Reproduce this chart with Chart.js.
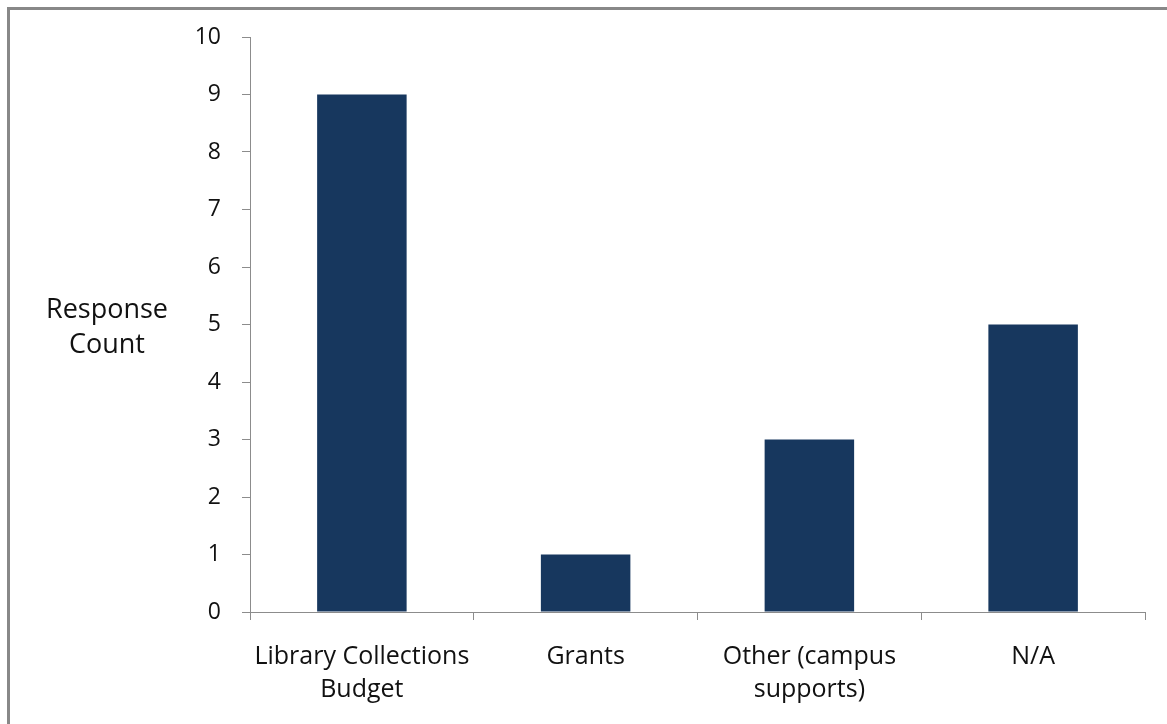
<!DOCTYPE html>
<html>
<head>
<meta charset="utf-8">
<script src="https://cdn.jsdelivr.net/npm/chart.js@4"></script>
<style>
  html, body { margin: 0; padding: 0; background: #fff; }
  #wrap { position: absolute; left: 0; top: 0; width: 1167px; height: 724px; }
</style>
</head>
<body>
<div id="wrap"><canvas id="barChart"></canvas></div>
<script>
// Funding sources and how many responses named each one
var categories = [["Library Collections", "Budget"], "Grants", ["Other (campus", "supports)"], "N/A"];
var responseCounts = [9, 1, 3, 5];
var yTicks = [0, 1, 2, 3, 4, 5, 6, 7, 8, 9, 10];
var yTitle = ["Response", "Count"];

var fontFamily = "'Open Sans', 'Liberation Sans', sans-serif";
var axisGray = "#8c8c8c";

// Gray frame on the left and top, and the horizontal y axis title
var framePlugin = {
  id: "frame",
  beforeDraw: function (chart) {
    var ctx = chart.ctx;
    ctx.save();
    ctx.strokeStyle = "#888888";
    ctx.lineWidth = 3;
    ctx.beginPath();
    ctx.moveTo(8.5, chart.height);
    ctx.lineTo(8.5, 8.5);
    ctx.lineTo(chart.width, 8.5);
    ctx.stroke();
    ctx.restore();
  },
  afterDraw: function (chart) {
    var ctx = chart.ctx;
    var mid = (chart.chartArea.top + chart.chartArea.bottom) / 2;
    ctx.save();
    ctx.fillStyle = "#111";
    ctx.font = "27px " + fontFamily;
    ctx.textAlign = "center";
    ctx.textBaseline = "middle";
    ctx.fillText(yTitle[0], 107, mid - 14);
    ctx.fillText(yTitle[1], 107, mid + 21);
    ctx.restore();
  }
};

window.onload = function () {
  var ctx = document.getElementById("barChart").getContext("2d");
  new Chart(ctx, {
    type: "bar",
    data: {
      labels: categories,
      datasets: [
        {
          label: "Response Count",
          data: responseCounts,
          backgroundColor: "#17375E",
          borderWidth: 0,
          barPercentage: 0.4,
          categoryPercentage: 1.0,
        },
      ],
    },
    options: {
      responsive: true,
      maintainAspectRatio: false,
      animation: false,
      layout: { padding: { left: 0, top: 37, right: 22, bottom: 0 } },
      plugins: {
        legend: { display: false },
        tooltip: { enabled: false },
      },
      scales: {
        x: {
          grid: {
            display: true,
            drawOnChartArea: false,
            drawTicks: true,
            tickLength: 8,
            color: axisGray,
          },
          border: { color: axisGray, width: 1 },
          ticks: {
            color: "#111",
            padding: 20,
            maxRotation: 0,
            font: { family: fontFamily, size: 25, lineHeight: 1.32 },
          },
          afterFit: function (scale) {
            scale.height = 112;
          },
        },
        y: {
          min: 0,
          max: 10,
          afterBuildTicks: function (scale) {
            scale.ticks = yTicks.map(function (v) { return { value: v }; });
          },
          grid: {
            display: true,
            drawOnChartArea: false,
            drawTicks: true,
            tickLength: 8,
            color: axisGray,
          },
          border: { color: axisGray, width: 1 },
          ticks: {
            color: "#111",
            padding: 21,
            font: { family: fontFamily, size: 23 },
          },
          afterFit: function (scale) {
            scale.width = 250;
          },
        },
      },
    },
    plugins: [framePlugin],
  });
};
</script>
</body>
</html>
